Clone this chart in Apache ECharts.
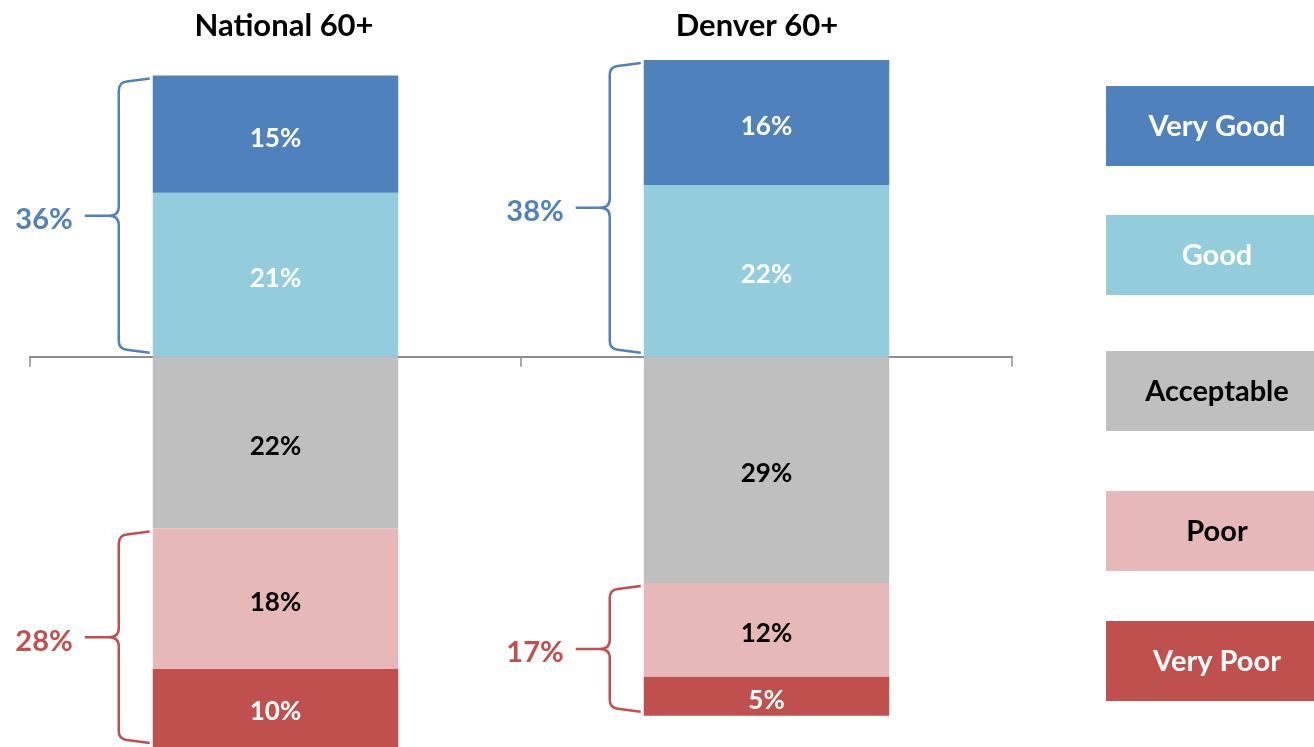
<!DOCTYPE html>
<html>
<head>
<meta charset="utf-8">
<script src="https://cdn.jsdelivr.net/npm/echarts@6/dist/echarts.min.js"></script>
<style>
  html, body { margin: 0; padding: 0; background: #fff; }
  #chart { width: 1314px; height: 747px; }
</style>
</head>
<body>
<div id="chart"></div>
<script>
const categories = ["National 60+", "Denver 60+"];
const veryGood = [15, 16];
const good = [21, 22];
const acceptable = [22, 29];
const poor = [18, 12];
const veryPoor = [10, 5];
const legendNames = ["Very Good", "Good", "Acceptable", "Poor", "Very Poor"];

const FONT = "Lato, 'Open Sans', sans-serif";
const colors = {
  "Very Good": "#4F81BD",
  "Good": "#93CDDD",
  "Acceptable": "#BFBFBF",
  "Poor": "#E6B9B8",
  "Very Poor": "#C0504D"
};
const textColors = {
  "Very Good": "#fff",
  "Good": "#fff",
  "Acceptable": "#000",
  "Poor": "#000",
  "Very Poor": "#fff"
};

// brace ranges: top two above zero, bottom two below
const posBraces = categories.map((c, i) => [i, 0, good[i] + veryGood[i]]);
const negBraces = categories.map((c, i) => [i, -acceptable[i], -(acceptable[i] + poor[i] + veryPoor[i])]);

const barSeries = (name, values, sign) => ({
  name: name,
  type: "bar",
  stack: "total",
  barWidth: "50%",
  data: values.map(v => v * sign),
  itemStyle: { color: colors[name] },
  label: {
    show: true,
    position: "inside",
    offset: [0, 4],
    color: textColors[name],
    fontFamily: FONT,
    fontWeight: "bold",
    fontSize: 26,
    formatter: p => Math.abs(p.value) + "%"
  },
  emphasis: { disabled: true }
});

const braceSeries = (data, color) => ({
  type: "custom",
  coordinateSystem: "cartesian2d",
  silent: true,
  encode: { x: 0, y: [1, 2] },
  data: data,
  renderItem: (params, api) => {
    const cat = api.value(0);
    const a = api.coord([cat, api.value(1)]);
    const b = api.coord([cat, api.value(2)]);
    const bandW = api.size([1, 0])[0];
    const barLeft = a[0] - bandW * 0.25;
    const yTop = Math.min(a[1], b[1]) + 3;
    const yBot = Math.max(a[1], b[1]) - 4;
    const ym = (yTop + yBot) / 2;
    const vx = barLeft - 34;
    const end = barLeft - 3;
    const path = [
      "M", end, yTop,
      "L", vx + 8, yTop + 3,
      "Q", vx, yTop + 4, vx, yTop + 12,
      "L", vx, ym - 9,
      "Q", vx, ym, vx - 10, ym,
      "L", vx - 34, ym,
      "M", vx - 10, ym,
      "Q", vx, ym, vx, ym + 9,
      "L", vx, yBot - 12,
      "Q", vx, yBot - 4, vx + 8, yBot - 3,
      "L", end, yBot
    ].join(" ");
    const total = Math.abs(api.value(2) - api.value(1));
    return {
      type: "group",
      children: [
        {
          type: "path",
          shape: { pathData: path },
          style: { stroke: color, lineWidth: 2.5, fill: "none" }
        },
        {
          type: "text",
          x: vx - 46,
          y: ym + 4,
          style: {
            text: total + "%",
            fill: color,
            font: "bold 29px " + FONT,
            align: "right",
            verticalAlign: "middle"
          }
        }
      ]
    };
  }
});

// legend boxes on the right
const legendTops = [86, 215, 351, 491, 621];
const legendGraphics = [];
legendNames.forEach((name, i) => {
  legendGraphics.push({
    type: "rect",
    left: 1106,
    top: legendTops[i],
    shape: { width: 230, height: 80 },
    style: { fill: colors[name] }
  });
  legendGraphics.push({
    type: "text",
    x: 1217,
    y: legendTops[i] + 41,
    style: {
      text: name,
      fill: textColors[name],
      font: "bold 29px " + FONT,
      align: "center",
      verticalAlign: "middle"
    }
  });
});

const titleX = [284, 757];
categories.forEach((c, i) => {
  legendGraphics.push({
    type: "text",
    x: titleX[i],
    y: 26,
    style: {
      text: c,
      fill: "#000",
      font: "bold 31px " + FONT,
      align: "center",
      verticalAlign: "middle"
    }
  });
});

const option = {
  animation: false,
  backgroundColor: "#fff",
  grid: { left: 30, right: 302, top: 60, height: 688 },
  xAxis: {
    type: "category",
    data: categories,
    axisLine: { onZero: true, lineStyle: { color: "#8c8c8c", width: 2 } },
    axisTick: { show: true, length: 10, lineStyle: { color: "#8c8c8c", width: 1.5 } },
    axisLabel: { show: false },
    splitLine: { show: false }
  },
  yAxis: {
    type: "value",
    min: -50,
    max: 38,
    show: false,
    splitLine: { show: false }
  },
  series: [
    barSeries("Good", good, 1),
    barSeries("Very Good", veryGood, 1),
    barSeries("Acceptable", acceptable, -1),
    barSeries("Poor", poor, -1),
    barSeries("Very Poor", veryPoor, -1),
    braceSeries(posBraces, "#4F81BD"),
    braceSeries(negBraces, "#C0504D")
  ],
  graphic: legendGraphics
};

const chart = echarts.init(document.getElementById("chart"));
chart.setOption(option);
</script>
</body>
</html>
